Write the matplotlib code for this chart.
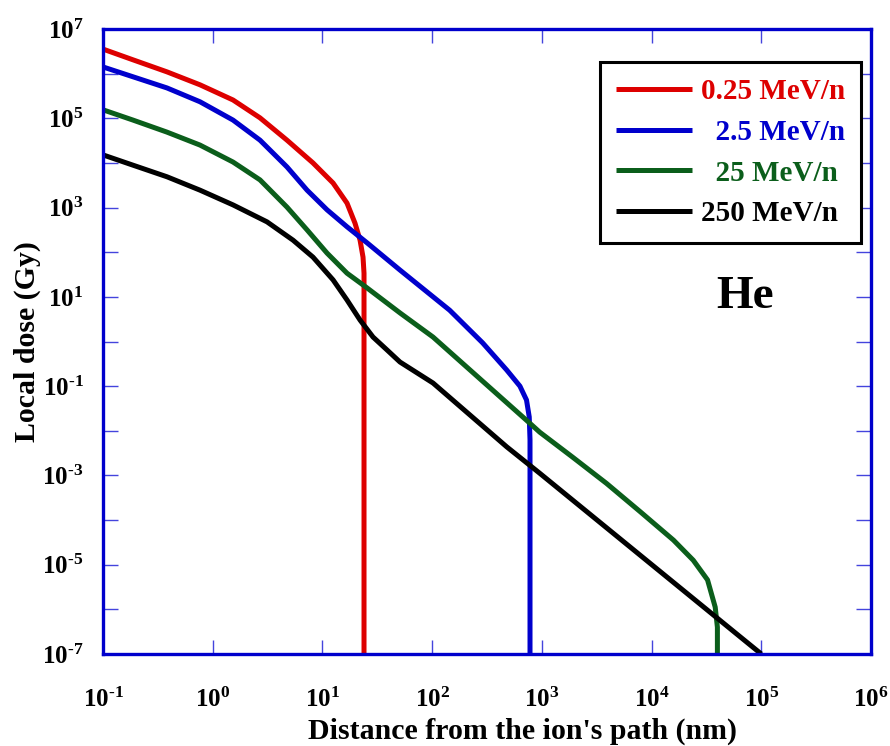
import math
import matplotlib
matplotlib.use('Agg')
from matplotlib import pyplot as plt
from matplotlib.ticker import FixedLocator, FuncFormatter

plt.rcParams['font.family'] = 'Liberation Serif'
plt.rcParams['font.weight'] = 'bold'
plt.rcParams['mathtext.fontset'] = 'custom'
plt.rcParams['mathtext.rm'] = 'Liberation Serif:bold'
plt.rcParams['mathtext.bf'] = 'Liberation Serif:bold'
plt.rcParams['mathtext.it'] = 'Liberation Serif:bold'

# values, as log10(x nm) and log10(dose Gy)
red_lx = [-1.0, -0.727, -0.417, -0.116, 0.185, 0.431, 0.677, 0.914, 1.097, 1.224, 1.297, 1.343, 1.370, 1.379, 1.379]
red_ly = [6.55, 6.31, 6.04, 5.75, 5.41, 5.01, 4.51, 4.00, 3.55, 3.10, 2.65, 2.27, 1.89, 1.53, -7.0]

blue_lx = [-1.0, -0.727, -0.417, -0.116, 0.185, 0.431, 0.677, 0.860, 1.042, 1.224, 1.407, 1.707, 2.16, 2.46, 2.68, 2.80, 2.86, 2.885, 2.892, 2.892]
blue_ly = [6.15, 5.93, 5.68, 5.37, 4.96, 4.51, 3.91, 3.39, 2.95, 2.57, 2.21, 1.60, 0.70, -0.03, -0.64, -1.0, -1.31, -1.69, -2.2, -7.0]

green_lx = [-1.0, -0.727, -0.417, -0.116, 0.185, 0.431, 0.677, 0.860, 1.042, 1.224, 1.407, 1.707, 2.008, 2.89, 2.98, 3.28, 3.59, 3.90, 4.20, 4.38, 4.51, 4.58, 4.60, 4.60]
green_ly = [5.19, 4.96, 4.69, 4.40, 4.02, 3.62, 3.01, 2.50, 1.98, 1.53, 1.20, 0.64, 0.10, -1.83, -2.03, -2.59, -3.18, -3.82, -4.45, -4.90, -5.34, -5.95, -6.40, -7.0]

black_lx = [-1.0, -0.727, -0.417, -0.116, 0.185, 0.495, 0.732, 0.914, 1.097, 1.224, 1.343, 1.461, 1.589, 1.707, 2.008, 2.68, 2.98, 4.81, 5.0]
black_ly = [4.18, 3.95, 3.69, 3.39, 3.06, 2.68, 2.27, 1.89, 1.38, 0.93, 0.48, 0.10, -0.19, -0.46, -0.93, -2.36, -2.95, -6.62, -7.0]

labels = ['0.25 MeV/n', '  2.5 MeV/n', '  25 MeV/n', '250 MeV/n']
colors = ['#dd0000', '#0000cc', '#0b5e1b', '#000000']

x_exps = list(range(-1, 7))
y_exps = list(range(-7, 8))

f = plt.figure(figsize=(8.9, 7.46), dpi=100)
ax = f.add_axes((103/890, 92/746, 768/890, 625/746))

series = [(red_lx, red_ly), (blue_lx, blue_ly), (green_lx, green_ly), (black_lx, black_ly)]
for (lx, ly), lab, c in zip(series, labels, colors):
  ax.plot([10**v for v in lx], [10**v for v in ly], color=c, lw=3.6, label=lab,
          solid_joinstyle='round', solid_capstyle='butt')

ax.set_xscale('log')
ax.set_yscale('log')
ax.set_xlim(1e-1, 1e6)
ax.set_ylim(1e-7, 1e7)

ax.xaxis.set_major_locator(FixedLocator([10.0**e for e in x_exps]))
ax.yaxis.set_major_locator(FixedLocator([10.0**e for e in y_exps]))
ax.xaxis.set_minor_locator(FixedLocator([]))
ax.yaxis.set_minor_locator(FixedLocator([]))

def pow_label(e):
  if e < 0:
    return r'$10^{\text{-}%d}$' % (-e)
  return r'$10^{%d}$' % e
def fmt_x(v, pos):
  return pow_label(int(round(math.log10(v))))
def fmt_y(v, pos):
  e = int(round(math.log10(v)))
  return pow_label(e) if e % 2 else ''
ax.xaxis.set_major_formatter(FuncFormatter(fmt_x))
ax.yaxis.set_major_formatter(FuncFormatter(fmt_y))

ax.tick_params(axis='both', which='major', direction='in', color='#4444dd', width=1,
               top=True, right=True, labelsize=18)
ax.tick_params(axis='x', length=10, pad=24)
ax.tick_params(axis='y', length=11, pad=14)

for s in ax.spines.values():
  s.set_color('#0000cc')
  s.set_linewidth(2.4)

ax.set_xlabel("Distance from the ion's path (nm)", fontsize=21.5, fontweight='bold', labelpad=4)
ax.xaxis.label.set_x(0.5456)
ax.set_ylabel('Local dose (Gy)', fontsize=21.5, fontweight='bold', labelpad=1)

ax.text(0.8366, 0.5536, 'He', transform=ax.transAxes, fontsize=34, fontweight='bold',
        ha='center', va='baseline')

leg = ax.legend(loc='upper right', bbox_to_anchor=(0.987, 0.947), fontsize=21,
                labelcolor='linecolor', frameon=True, fancybox=False, framealpha=1,
                edgecolor='black', handlelength=2.6, handletextpad=0.3,
                borderpad=0.55, labelspacing=0.47, borderaxespad=0)
leg.get_frame().set_linewidth(2.2)
for t in leg.get_texts():
  t.set_fontweight('bold')

f.savefig('out.png', dpi=100)
